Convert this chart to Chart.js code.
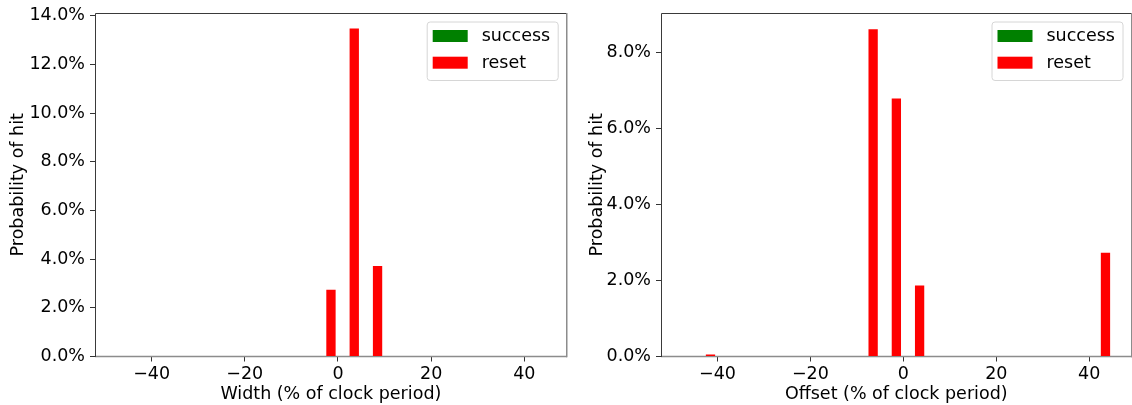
<!DOCTYPE html>
<html>
<head>
<meta charset="utf-8">
<script src="https://cdn.jsdelivr.net/npm/chart.js@4/dist/chart.umd.min.js"></script>
<style>
  html, body { margin: 0; padding: 0; background: #fff; overflow: hidden; }
  body { width: 1132px; height: 405px; position: relative; }
  canvas { position: absolute; top: 0; }
</style>
</head>
<body>
<canvas id="widthChart" width="570" height="405" style="left:0px"></canvas>
<canvas id="offsetChart" width="562" height="405" style="left:570px"></canvas>
<script>
// Histogram bins (bin centres, % of clock period), bin width 5
const binCenters = [-47.5, -42.5, -37.5, -32.5, -27.5, -22.5, -17.5, -12.5, -7.5, -2.5,
                    2.5, 7.5, 12.5, 17.5, 22.5, 27.5, 32.5, 37.5, 42.5];

// Glitch width sweep: probability of hit (%)
const widthSuccess = [0, 0, 0, 0, 0, 0, 0, 0, 0, 0, 0, 0, 0, 0, 0, 0, 0, 0, 0];
const widthReset   = [0, 0, 0, 0, 0, 0, 0, 0, 0, 2.74, 13.48, 3.72, 0, 0, 0, 0, 0, 0, 0];

// Glitch offset sweep: probability of hit (%)
const offsetSuccess = [0, 0, 0, 0, 0, 0, 0, 0, 0, 0, 0, 0, 0, 0, 0, 0, 0, 0, 0];
const offsetReset   = [0, 0.05, 0, 0, 0, 0, 0, 0, 8.61, 6.79, 1.87, 0, 0, 0, 0, 0, 0, 0, 2.73];

// Tick labels
const xTickValues = [-40, -20, 0, 20, 40];
const widthYTicks = [0, 2, 4, 6, 8, 10, 12, 14];
const offsetYTicks = [0, 2, 4, 6, 8];

const FONT = "'DejaVu Sans', 'Liberation Sans', sans-serif";
const FONT_SIZE = 17.5;

function toPoints(values) {
  return binCenters.map((x, i) => ({ x: x, y: values[i] }));
}

function fmtX(v) {
  return v < 0 ? '\u2212' + Math.abs(v) : String(v);
}

// Axes frame: bottom spine under the bars, the other three on top
const framePlugin = {
  id: 'frame',
  beforeDatasetsDraw(chart) {
    const { ctx, chartArea: a } = chart;
    ctx.save();
    ctx.strokeStyle = '#8c8c8c';
    ctx.lineWidth = 1.5;
    ctx.beginPath();
    ctx.moveTo(Math.round(a.left), a.bottom);
    ctx.lineTo(Math.round(a.right), a.bottom);
    ctx.stroke();
    ctx.restore();
  },
  afterDraw(chart) {
    const { ctx, chartArea: a } = chart;
    ctx.save();
    ctx.lineWidth = 1;
    ctx.strokeStyle = '#3a3a3a';
    ctx.beginPath();
    ctx.moveTo(Math.round(a.left) + 0.5, Math.round(a.bottom));
    ctx.lineTo(Math.round(a.left) + 0.5, Math.round(a.top) + 0.5);
    ctx.lineTo(Math.round(a.right), Math.round(a.top) + 0.5);
    ctx.stroke();
    ctx.strokeStyle = '#8c8c8c';
    ctx.lineWidth = 1.5;
    ctx.beginPath();
    ctx.moveTo(Math.round(a.right) - 0.25, Math.round(a.top));
    ctx.lineTo(Math.round(a.right) - 0.25, a.bottom + 0.75);
    ctx.stroke();
    ctx.restore();
  }
};

// Legend box in the upper right corner, built from the datasets
const boxLegendPlugin = {
  id: 'boxLegend',
  afterDraw(chart) {
    const { ctx, chartArea: a } = chart;
    const w = 131, h = 58.5;
    const x = a.right - 9 - w, y = a.top + 8.5;
    ctx.save();
    ctx.beginPath();
    ctx.roundRect(x + 0.5, y + 0.5, w, h, 3);
    ctx.fillStyle = 'rgba(255,255,255,0.8)';
    ctx.fill();
    ctx.strokeStyle = '#d6d6d6';
    ctx.lineWidth = 1;
    ctx.stroke();
    chart.data.datasets.forEach((ds, i) => {
      const cy = y + 14.5 + i * 26.7;
      ctx.fillStyle = ds.backgroundColor;
      ctx.fillRect(x + 6, cy - 6, 35, 12);
      ctx.fillStyle = '#000';
      ctx.font = FONT_SIZE + 'px ' + FONT;
      ctx.textBaseline = 'middle';
      ctx.textAlign = 'left';
      ctx.fillText(ds.label, x + 55, cy + 0.5);
    });
    ctx.restore();
  }
};

function makeChart(id, cfg) {
  return new Chart(document.getElementById(id), {
    type: 'bar',
    data: {
      datasets: [
        { label: 'success', data: toPoints(cfg.success), backgroundColor: '#008000', borderWidth: 0 },
        { label: 'reset', data: toPoints(cfg.reset), backgroundColor: '#ff0000', borderWidth: 0 }
      ]
    },
    options: {
      responsive: false,
      animation: false,
      events: [],
      categoryPercentage: 0.8,
      barPercentage: 1.0,
      layout: { padding: { top: 13, right: cfg.padRight, left: 0, bottom: 0 } },
      plugins: { legend: { display: false }, tooltip: { enabled: false } },
      scales: {
        x: {
          type: 'linear',
          min: -52.15,
          max: 49.1,
          offset: false,
          border: { display: false },
          grid: { display: true, offset: false, drawOnChartArea: false, drawTicks: true, tickLength: 5, color: '#333' },
          afterBuildTicks(scale) { scale.ticks = xTickValues.map(v => ({ value: v })); },
          afterFit(scale) {
            scale.height = 48.5;
            scale.paddingLeft = 0;
            scale.paddingRight = 0;
          },
          ticks: {
            color: '#000',
            font: { family: FONT, size: FONT_SIZE },
            padding: 2,
            maxRotation: 0,
            callback: v => fmtX(v)
          },
          title: {
            display: true,
            text: cfg.xTitle,
            color: '#000',
            font: { family: FONT, size: FONT_SIZE },
            padding: { top: 0, bottom: 0 }
          }
        },
        y: {
          min: 0,
          max: cfg.yMax,
          border: { display: false },
          grid: { display: true, drawOnChartArea: false, drawTicks: true, tickLength: 5, color: '#333' },
          afterBuildTicks(scale) { scale.ticks = cfg.yTicks.map(v => ({ value: v })); },
          afterFit(scale) {
            scale.width = cfg.yAxisWidth;
            scale.paddingTop = 0;
            scale.paddingBottom = 0;
          },
          ticks: {
            color: '#000',
            font: { family: FONT, size: FONT_SIZE },
            padding: 5,
            callback: v => v.toFixed(1) + '%'
          },
          title: {
            display: true,
            text: 'Probability of hit',
            color: '#000',
            font: { family: FONT, size: FONT_SIZE },
            padding: { top: cfg.yTitlePad, bottom: 0 }
          }
        }
      }
    },
    plugins: [framePlugin, boxLegendPlugin]
  });
}

makeChart('widthChart', {
  success: widthSuccess,
  reset: widthReset,
  yMax: 14.12,
  yTicks: widthYTicks,
  xTitle: 'Width (% of clock period)',
  yAxisWidth: 95,
  padRight: 3.3,
  yTitlePad: 7.5
});

makeChart('offsetChart', {
  success: offsetSuccess,
  reset: offsetReset,
  yMax: 9.04,
  yTicks: offsetYTicks,
  xTitle: 'Offset (% of clock period)',
  yAxisWidth: 91,
  padRight: 0.5,
  yTitlePad: 16.5
});
</script>
</body>
</html>
